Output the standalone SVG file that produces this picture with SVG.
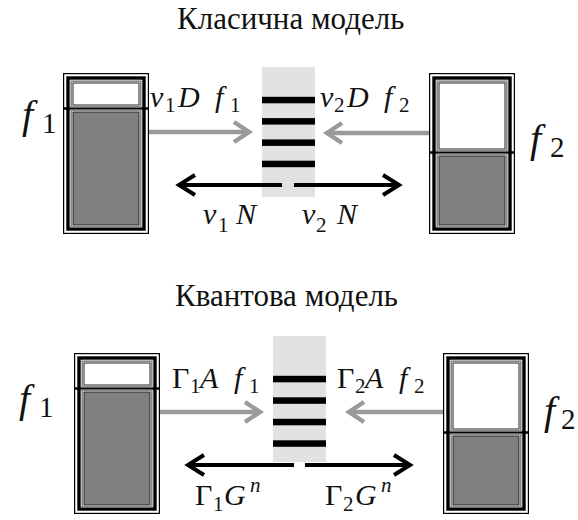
<svg xmlns="http://www.w3.org/2000/svg" width="578" height="520" viewBox="0 0 578 520">
<rect width="578" height="520" fill="#fff"/>
<g id="titles" font-family="Times New Roman, Liberation Serif, serif" fill="#111">
<text x="177" y="29" font-size="31" font-family="Times New Roman, Liberation Serif, serif">Класична модель</text>
<text x="175" y="306" font-size="31" font-family="Times New Roman, Liberation Serif, serif">Квантова модель</text>
</g>

<g id="box-top-left" transform="translate(63,73)">
<rect x="0.6" y="0.6" width="84.8" height="159.8" fill="#fff" stroke="#000" stroke-width="1.2"/>
<rect x="5" y="5" width="76" height="151" fill="none" stroke="#000" stroke-width="3.4"/>
<line x1="0" y1="35.5" x2="86" y2="35.5" stroke="#000" stroke-width="2.6"/>
<rect x="8.2" y="8.2" width="69.6" height="25.6" fill="none" stroke="#8a8a8a" stroke-width="1.6"/>
<rect x="10" y="10" width="66" height="22" fill="#fff" stroke="#222" stroke-width="1"/>
<rect x="8.2" y="37.2" width="69.6" height="116.6" fill="none" stroke="#8a8a8a" stroke-width="1.6"/>
<rect x="10" y="39" width="66" height="113" fill="#808080" stroke="#222" stroke-width="1"/>
</g>
<g id="box-top-right" transform="translate(429,73)">
<rect x="0.6" y="0.6" width="84.8" height="159.8" fill="#fff" stroke="#000" stroke-width="1.2"/>
<rect x="5" y="5" width="76" height="151" fill="none" stroke="#000" stroke-width="3.4"/>
<line x1="0" y1="79.5" x2="86" y2="79.5" stroke="#000" stroke-width="2.6"/>
<rect x="8.2" y="8.2" width="69.6" height="69.6" fill="none" stroke="#8a8a8a" stroke-width="1.6"/>
<rect x="10" y="10" width="66" height="66" fill="#fff" stroke="#222" stroke-width="1"/>
<rect x="8.2" y="81.2" width="69.6" height="72.6" fill="none" stroke="#8a8a8a" stroke-width="1.6"/>
<rect x="10" y="83" width="66" height="69" fill="#808080" stroke="#222" stroke-width="1"/>
</g>
<g id="box-bottom-left" transform="translate(74,353)">
<rect x="0.6" y="0.6" width="84.8" height="159.8" fill="#fff" stroke="#000" stroke-width="1.2"/>
<rect x="5" y="5" width="76" height="151" fill="none" stroke="#000" stroke-width="3.4"/>
<line x1="0" y1="35.5" x2="86" y2="35.5" stroke="#000" stroke-width="2.6"/>
<rect x="8.2" y="8.2" width="69.6" height="25.6" fill="none" stroke="#8a8a8a" stroke-width="1.6"/>
<rect x="10" y="10" width="66" height="22" fill="#fff" stroke="#222" stroke-width="1"/>
<rect x="8.2" y="37.2" width="69.6" height="116.6" fill="none" stroke="#8a8a8a" stroke-width="1.6"/>
<rect x="10" y="39" width="66" height="113" fill="#808080" stroke="#222" stroke-width="1"/>
</g>
<g id="box-bottom-right" transform="translate(443,353)">
<rect x="0.6" y="0.6" width="84.8" height="159.8" fill="#fff" stroke="#000" stroke-width="1.2"/>
<rect x="5" y="5" width="76" height="151" fill="none" stroke="#000" stroke-width="3.4"/>
<line x1="0" y1="79.5" x2="86" y2="79.5" stroke="#000" stroke-width="2.6"/>
<rect x="8.2" y="8.2" width="69.6" height="69.6" fill="none" stroke="#8a8a8a" stroke-width="1.6"/>
<rect x="10" y="10" width="66" height="66" fill="#fff" stroke="#222" stroke-width="1"/>
<rect x="8.2" y="81.2" width="69.6" height="72.6" fill="none" stroke="#8a8a8a" stroke-width="1.6"/>
<rect x="10" y="83" width="66" height="69" fill="#808080" stroke="#222" stroke-width="1"/>
</g>

<g id="levels-top">
<rect x="262" y="67" width="53" height="130" fill="#e2e2e2"/>
<rect x="262" y="96.8" width="53" height="6.5" fill="#000"/>
<rect x="262" y="118.1" width="53" height="6.5" fill="#000"/>
<rect x="262" y="139.4" width="53" height="6.5" fill="#000"/>
<rect x="262" y="160.7" width="53" height="6.5" fill="#000"/>
</g>
<g id="levels-bottom">
<rect x="273" y="336" width="53" height="126" fill="#e2e2e2"/>
<rect x="273" y="375.8" width="53" height="6.5" fill="#000"/>
<rect x="273" y="397.3" width="53" height="6.5" fill="#000"/>
<rect x="273" y="418.8" width="53" height="6.5" fill="#000"/>
<rect x="273" y="440.3" width="53" height="6.5" fill="#000"/>
</g>

<g id="connectors" fill="none">
<g stroke="#9a9a9a" stroke-width="4.5">
<path d="M149,132 H247"/>
<path d="M234,122 L249,132 L234,142"/>
<path d="M429,133 H329"/>
<path d="M342,123 L327,133 L342,143"/>
<path d="M160,412 H258"/>
<path d="M245,402 L260,412 L245,422"/>
<path d="M443,412 H351"/>
<path d="M364,402 L349,412 L364,422"/>
</g>
<g stroke="#000" stroke-width="4">
<path d="M282,185 H180"/>
<path d="M195,175 L179,185 L195,195"/>
<path d="M294,185 H398"/>
<path d="M383,175 L399,185 L383,195"/>
<path d="M294,465 H189"/>
<path d="M204,455 L188,465 L204,475"/>
<path d="M305,465 H409"/>
<path d="M394,455 L410,465 L394,475"/>
</g>
</g>

<g id="labels" font-family="Times New Roman, Liberation Serif, serif" fill="#111">
<text x="22" y="128" font-size="40" font-style="italic" font-family="Times New Roman, Liberation Serif, serif">f</text>
<text x="42" y="133" font-size="29" font-family="Times New Roman, Liberation Serif, serif">1</text>
<text x="530" y="152" font-size="40" font-style="italic" font-family="Times New Roman, Liberation Serif, serif">f</text>
<text x="550" y="157" font-size="29" font-family="Times New Roman, Liberation Serif, serif">2</text>

<text x="150" y="107" font-size="30" font-style="italic" font-family="Times New Roman, Liberation Serif, serif">ν</text>
<text x="165" y="112" font-size="21" font-family="Times New Roman, Liberation Serif, serif">1</text>
<text x="178" y="107" font-size="30" font-style="italic" font-family="Times New Roman, Liberation Serif, serif">D</text>
<text x="215" y="107" font-size="30" font-style="italic" font-family="Times New Roman, Liberation Serif, serif">f</text>
<text x="230" y="112" font-size="21" font-family="Times New Roman, Liberation Serif, serif">1</text>

<text x="320" y="107" font-size="30" font-style="italic" font-family="Times New Roman, Liberation Serif, serif">ν</text>
<text x="334" y="112" font-size="21" font-family="Times New Roman, Liberation Serif, serif">2</text>
<text x="347" y="107" font-size="30" font-style="italic" font-family="Times New Roman, Liberation Serif, serif">D</text>
<text x="384" y="107" font-size="30" font-style="italic" font-family="Times New Roman, Liberation Serif, serif">f</text>
<text x="399" y="112" font-size="21" font-family="Times New Roman, Liberation Serif, serif">2</text>

<text x="203" y="224" font-size="30" font-style="italic" font-family="Times New Roman, Liberation Serif, serif">ν</text>
<text x="218" y="232" font-size="21" font-family="Times New Roman, Liberation Serif, serif">1</text>
<text x="236" y="224" font-size="30" font-style="italic" font-family="Times New Roman, Liberation Serif, serif">N</text>
<text x="302" y="224" font-size="30" font-style="italic" font-family="Times New Roman, Liberation Serif, serif">ν</text>
<text x="316" y="232" font-size="21" font-family="Times New Roman, Liberation Serif, serif">2</text>
<text x="337" y="224" font-size="30" font-style="italic" font-family="Times New Roman, Liberation Serif, serif">N</text>

<text x="19" y="412" font-size="40" font-style="italic" font-family="Times New Roman, Liberation Serif, serif">f</text>
<text x="39" y="417" font-size="29" font-family="Times New Roman, Liberation Serif, serif">1</text>
<text x="544" y="424" font-size="40" font-style="italic" font-family="Times New Roman, Liberation Serif, serif">f</text>
<text x="561" y="429" font-size="29" font-family="Times New Roman, Liberation Serif, serif">2</text>

<text x="172" y="388" font-size="30" font-family="Times New Roman, Liberation Serif, serif">Γ</text>
<text x="190" y="393" font-size="21" font-family="Times New Roman, Liberation Serif, serif">1</text>
<text x="200" y="388" font-size="30" font-style="italic" font-family="Times New Roman, Liberation Serif, serif">A</text>
<text x="234" y="388" font-size="30" font-style="italic" font-family="Times New Roman, Liberation Serif, serif">f</text>
<text x="249" y="393" font-size="21" font-family="Times New Roman, Liberation Serif, serif">1</text>

<text x="337" y="388" font-size="30" font-family="Times New Roman, Liberation Serif, serif">Γ</text>
<text x="355" y="393" font-size="21" font-family="Times New Roman, Liberation Serif, serif">2</text>
<text x="365" y="388" font-size="30" font-style="italic" font-family="Times New Roman, Liberation Serif, serif">A</text>
<text x="399" y="388" font-size="30" font-style="italic" font-family="Times New Roman, Liberation Serif, serif">f</text>
<text x="414" y="393" font-size="21" font-family="Times New Roman, Liberation Serif, serif">2</text>

<text x="195" y="505" font-size="30" font-family="Times New Roman, Liberation Serif, serif">Γ</text>
<text x="213" y="511" font-size="21" font-family="Times New Roman, Liberation Serif, serif">1</text>
<text x="224" y="505" font-size="30" font-style="italic" font-family="Times New Roman, Liberation Serif, serif">G</text>
<text x="250" y="492" font-size="21" font-style="italic" font-family="Times New Roman, Liberation Serif, serif">n</text>

<text x="325" y="505" font-size="30" font-family="Times New Roman, Liberation Serif, serif">Γ</text>
<text x="343" y="511" font-size="21" font-family="Times New Roman, Liberation Serif, serif">2</text>
<text x="355" y="505" font-size="30" font-style="italic" font-family="Times New Roman, Liberation Serif, serif">G</text>
<text x="381" y="492" font-size="21" font-style="italic" font-family="Times New Roman, Liberation Serif, serif">n</text>
</g>
</svg>
